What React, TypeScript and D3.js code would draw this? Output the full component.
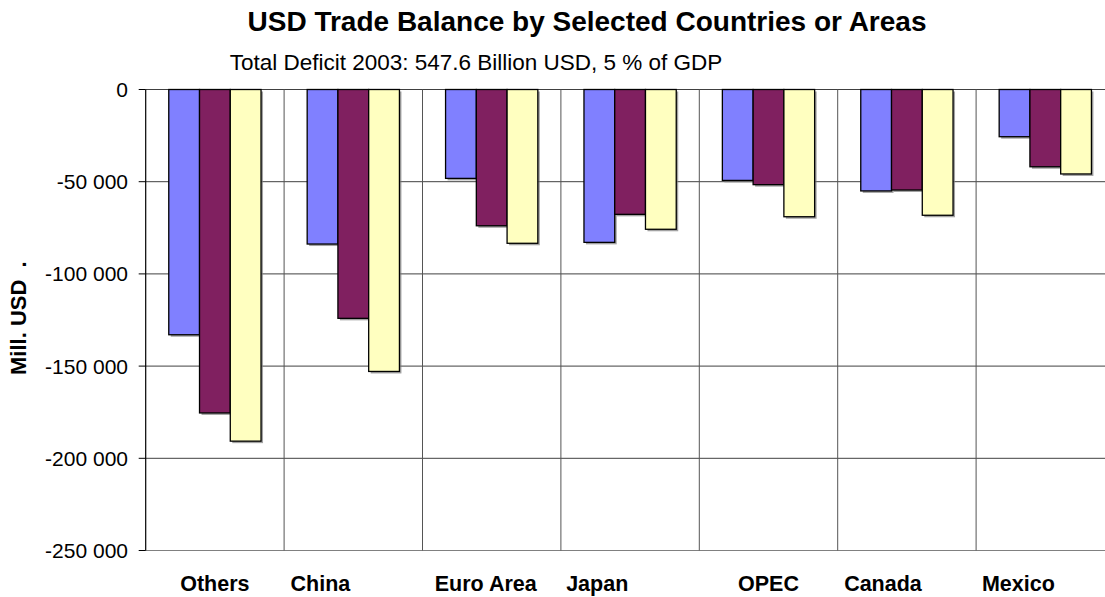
import React from "react";
import * as d3 from "d3";

const categories = ["Others", "China", "Euro Area", "Japan", "OPEC", "Canada", "Mexico"];
// category labels as typed in the source sheet (trailing spaces shift them left)
const categoryLabels = [
  "Others",
  "China           ",
  "Euro Area  ",
  "Japan           ",
  "OPEC",
  "Canada        ",
  "Mexico         ",
];
const seriesNames = ["Series A", "Series B", "Series C"];
const seriesA = [-133000, -83800, -48200, -82900, -49300, -55000, -25600];
const seriesB = [-175400, -124100, -73900, -67700, -51600, -54500, -41900];
const seriesC = [-190700, -152900, -83400, -75800, -69000, -68200, -45800];
const seriesColors = ["#8080FF", "#802060", "#FFFFC0"];
const yTicks = [0, -50000, -100000, -150000, -200000, -250000];
const title = "USD Trade Balance by Selected Countries or Areas";
const subtitle = "Total Deficit 2003: 547.6 Billion USD, 5 % of GDP";
const yLabel = "Mill. USD  .";

const W = 1105;
const H = 597;
const FONT = "'Liberation Sans', Arial, sans-serif";
const CAT_FS = 21.5;
const SPACE_W = 0.278 * CAT_FS;

export default function App() {
  const x = d3.scaleBand<string>().domain(categories).range([145.7, 1114.5]).paddingInner(0).paddingOuter(0);
  const xs = d3
    .scaleBand<string>()
    .domain(seriesNames)
    .range([0, x.step()])
    .paddingInner(0)
    .paddingOuter(0.75);
  const y = d3.scaleLinear().domain([-250000, 0]).range([550.5, 89.5]);
  const loc = d3.formatLocale({ decimal: ".", thousands: " ", grouping: [3], currency: ["", ""], minus: "-" });
  const fmt = loc.format(",d");
  const series = [seriesA, seriesB, seriesC];
  const [x0, x1] = x.range();

  return (
    <svg
      width={W}
      height={H}
      style={{ position: "absolute", left: 0, top: 0, background: "#fff" }}
      fontFamily={FONT}
    >
      <rect x={0} y={0} width={W} height={H} fill="#fff" />
      <text x={587} y={31} textAnchor="middle" fontSize={28} fontWeight="bold" fill="#000">
        {title}
      </text>
      <text x={476} y={70} textAnchor="middle" fontSize={22.5} fill="#000">
        {subtitle}
      </text>

      {/* horizontal gridlines */}
      {yTicks.map((t) => (
        <line key={"g" + t} x1={x0} x2={x1} y1={y(t)} y2={y(t)} stroke={t === -250000 ? "#808080" : "#404040"} strokeWidth={1} />
      ))}
      {/* vertical category separators */}
      {categories.map((c, i) =>
        i === 0 ? null : (
          <line key={"v" + c} x1={x(c)!} x2={x(c)!} y1={y(0)} y2={y(-250000)} stroke="#555" strokeWidth={1} />
        )
      )}
      {/* y axis */}
      <line x1={x0} x2={x0} y1={y(0)} y2={y(-250000)} stroke="#000" strokeWidth={1.2} />
      {yTicks.map((t) => (
        <g key={"t" + t}>
          <line x1={x0 - 7} x2={x0} y1={y(t)} y2={y(t)} stroke="#000" strokeWidth={1} />
          <text x={128} y={y(t) + 7.5} textAnchor="end" fontSize={21} fill="#000">
            {fmt(t)}
          </text>
        </g>
      ))}

      {/* bars */}
      {categories.map((c, i) =>
        seriesNames.map((s, j) => {
          const v = series[j][i];
          const bx = x(c)! + xs(s)!;
          const by = y(0);
          const bh = y(v) - y(0);
          return (
            <g key={c + s}>
              <rect x={bx + 2} y={by + 2} width={xs.bandwidth()} height={bh} fill="#7a7a7a" opacity={0.7} />
              <rect x={bx} y={by} width={xs.bandwidth()} height={bh} fill={seriesColors[j]} stroke="#000" strokeWidth={1.3} />
            </g>
          );
        })
      )}

      {/* category labels */}
      {categories.map((c, i) => {
        const raw = categoryLabels[i];
        const trimmed = raw.replace(/\s+$/, "");
        const trailing = raw.length - trimmed.length;
        return (
          <text
            key={"l" + c}
            x={x(c)! + x.bandwidth() / 2 - (trailing * SPACE_W) / 2}
            y={591}
            textAnchor="middle"
            fontSize={CAT_FS}
            fontWeight="bold"
            fill="#000"
          >
            {trimmed}
          </text>
        );
      })}

      {/* y axis label */}
      <text
        transform="translate(26,375) rotate(-90)"
        x={0}
        y={0}
        textAnchor="start"
        fontSize={22}
        fontWeight="bold"
        fill="#000"
        style={{ whiteSpace: "pre" }}
      >
        {yLabel}
      </text>
    </svg>
  );
}
